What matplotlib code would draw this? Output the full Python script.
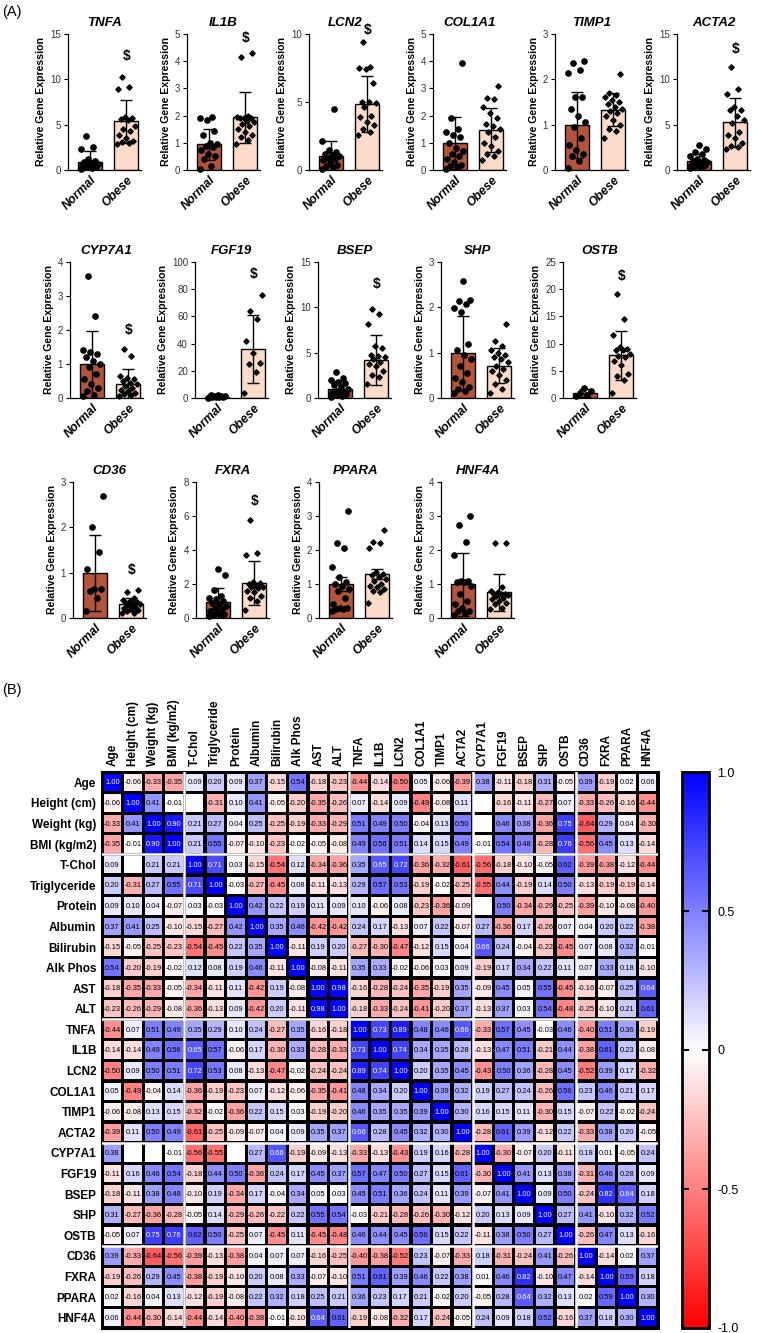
import numpy as np
import matplotlib
matplotlib.use("Agg")
import matplotlib.pyplot as plt
from matplotlib.colors import LinearSegmentedColormap, Normalize
from matplotlib.patches import Rectangle
from matplotlib.cm import ScalarMappable
from matplotlib import font_manager

plt.rcParams['font.family'] = ['Liberation Sans', 'DejaVu Sans']
_names = {f.name for f in font_manager.fontManager.ttflist}
narrow = ['Liberation Sans Narrow', 'Liberation Sans'] if 'Liberation Sans Narrow' in _names else ['Liberation Sans']

# ---------------- Panel A data ----------------
genes = ["TNFA", "IL1B", "LCN2", "COL1A1", "TIMP1", "ACTA2",
         "CYP7A1", "FGF19", "BSEP", "SHP", "OSTB",
         "CD36", "FXRA", "PPARA", "HNF4A"]
y_max = [15, 5, 10, 5, 3, 15, 4, 100, 15, 3, 25, 3, 8, 4, 4]
y_step = [5, 1, 5, 1, 1, 5, 1, 20, 5, 1, 5, 1, 2, 1, 1]
normal_mean = [0.93, 0.95, 1.03, 1.0, 0.99, 1.0, 0.99, 1.0, 1.0, 0.99, 0.93, 0.99, 0.95, 1.0, 0.99]
normal_err = [1.15, 0.57, 1.07, 0.95, 0.72, 0.8, 0.99, 0.8, 0.85, 0.82, 0.74, 0.83, 0.82, 0.2, 0.92]
obese_mean = [5.35, 1.94, 4.84, 1.47, 1.33, 5.24, 0.40, 35.8, 4.15, 0.71, 7.84, 0.30, 2.07, 1.30, 0.76]
obese_err = [2.4, 0.93, 2.05, 0.8, 0.36, 2.65, 0.44, 25.0, 2.75, 0.39, 4.55, 0.14, 1.3, 0.15, 0.54]
sig_y = [12.6, 4.85, 10.3, None, None, 13.4, 2.0, 91, 12.6, None, 22.5, 1.05, 6.9, None, None]

TNFA_normal = [3.8, 2.5, 2.3, 1.2, 1.0, 0.9, 0.8, 0.7, 0.6, 0.5, 0.4, 0.3, 0.2, 0.1, 0.3, 0.5]
TNFA_obese = [10.3, 9.2, 8.9, 5.8, 5.7, 5.6, 5.5, 4.5, 4.3, 3.9, 3.5, 3.2, 3.0, 3.1, 2.9, 4.8]
IL1B_normal = [1.95, 1.9, 1.85, 1.45, 1.3, 1.0, 0.95, 0.9, 0.85, 0.6, 0.4, 0.15, 0.05, 0.5, 0.75]
IL1B_obese = [4.3, 4.15, 2.0, 1.95, 1.9, 1.9, 1.8, 1.7, 1.6, 1.5, 1.4, 1.3, 1.2, 1.1, 1.9, 1.75, 0.95]
LCN2_normal = [4.5, 2.1, 1.5, 1.3, 1.2, 1.1, 1.0, 0.9, 0.8, 0.7, 0.5, 0.4, 0.3, 0.2, 0.1]
LCN2_obese = [9.4, 7.6, 7.5, 7.4, 5.0, 5.0, 4.9, 4.6, 4.0, 3.9, 3.5, 3.3, 3.0, 2.8, 2.6, 6.4]
COL1A1_normal = [3.95, 1.9, 1.5, 1.4, 1.3, 1.2, 1.0, 0.8, 0.6, 0.5, 0.4, 0.3, 0.2, 0.15, 0.1, 0.05, 0.7]
COL1A1_obese = [3.1, 2.65, 2.6, 2.3, 2.1, 1.9, 1.7, 1.6, 1.5, 1.4, 1.2, 1.0, 0.9, 0.7, 0.5, 0.35, 0.6]
TIMP1_normal = [2.4, 2.35, 2.2, 2.15, 1.6, 1.6, 1.35, 1.2, 1.05, 0.95, 0.7, 0.55, 0.45, 0.35, 0.3, 0.2, 0.05]
TIMP1_obese = [2.12, 1.7, 1.65, 1.6, 1.55, 1.5, 1.45, 1.4, 1.35, 1.3, 1.25, 1.2, 1.1, 1.0, 0.9, 0.85, 0.7]
ACTA2_normal = [2.8, 2.3, 2.0, 1.8, 1.5, 1.2, 1.0, 0.9, 0.8, 0.7, 0.6, 0.5, 0.4, 0.3, 0.2, 0.6, 0.9, 1.1]
ACTA2_obese = [11.4, 8.9, 8.4, 7.0, 6.6, 6.6, 5.5, 5.2, 4.2, 3.9, 3.5, 3.0, 2.6, 2.5, 2.3, 6.0]
CYP7A1_normal = [3.6, 2.4, 1.4, 1.35, 1.3, 1.2, 1.1, 1.0, 0.9, 0.7, 0.55, 0.4, 0.3, 0.2, 0.1, 0.05]
CYP7A1_obese = [1.45, 1.25, 0.65, 0.6, 0.55, 0.5, 0.45, 0.4, 0.35, 0.3, 0.25, 0.2, 0.15, 0.1, 0.05, 0.12]
FGF19_normal = [2.5, 2.0, 1.8, 1.5, 1.2, 1.0, 0.8, 0.6, 0.5, 0.4, 0.3]
FGF19_obese = [76, 64, 58, 42, 33, 26, 25, 19, 4]
BSEP_normal = [2.9, 2.2, 2.0, 1.8, 1.6, 1.4, 1.2, 1.0, 0.8, 0.6, 0.5, 0.4, 0.3, 0.2, 0.1, 0.7]
BSEP_obese = [9.8, 9.3, 8.2, 5.7, 5.5, 4.7, 4.6, 4.5, 4.0, 3.8, 3.5, 3.0, 2.5, 2.3, 1.5, 4.3]
SHP_normal = [2.58, 2.17, 2.15, 2.07, 1.98, 1.9, 1.2, 1.05, 0.95, 0.85, 0.7, 0.55, 0.45, 0.35, 0.25, 0.2, 0.15, 0.1]
SHP_obese = [1.63, 1.25, 1.15, 1.05, 1.0, 0.95, 0.9, 0.85, 0.8, 0.7, 0.65, 0.6, 0.5, 0.4, 0.3, 0.2, 0.1]
OSTB_normal = [1.9, 1.2, 0.9, 0.6, 0.3]
OSTB_obese = [19.1, 14.6, 11.5, 9.3, 8.9, 8.8, 8.0, 7.7, 7.5, 6.8, 6.1, 4.5, 4.0, 3.4, 1.0, 9.0]
CD36_normal = [2.7, 2.0, 1.45, 1.08, 0.65, 0.63, 0.6, 0.45, 0.15]
CD36_obese = [0.62, 0.57, 0.45, 0.4, 0.38, 0.35, 0.33, 0.3, 0.28, 0.25, 0.22, 0.2, 0.18, 0.15, 0.12, 0.1, 0.3]
FXRA_normal = [2.9, 2.5, 1.65, 1.3, 1.2, 1.1, 1.0, 0.9, 0.8, 0.7, 0.6, 0.5, 0.4, 0.3, 0.25, 0.2, 0.15, 0.1]
FXRA_obese = [5.75, 3.85, 3.7, 2.1, 2.05, 2.0, 1.9, 1.85, 1.8, 1.75, 1.6, 1.5, 1.3, 1.2, 1.0, 0.45]
PPARA_normal = [3.15, 2.2, 2.05, 1.5, 1.2, 1.05, 1.0, 0.95, 0.85, 0.8, 0.6, 0.4, 0.3, 0.28, 0.25, 0.25, 0.2]
PPARA_obese = [2.6, 2.25, 2.2, 2.05, 1.35, 1.3, 1.25, 1.2, 1.15, 1.1, 1.0, 0.95, 0.9, 0.85, 0.8, 0.75, 0.45]
HNF4A_normal = [3.0, 2.75, 2.25, 1.85, 1.1, 1.1, 1.05, 1.05, 0.95, 0.7, 0.5, 0.4, 0.3, 0.2, 0.2, 0.15, 0.1]
HNF4A_obese = [2.2, 2.2, 0.9, 0.8, 0.75, 0.72, 0.7, 0.7, 0.68, 0.65, 0.6, 0.55, 0.5, 0.45, 0.4, 0.3, 0.25]

normal_points = [TNFA_normal, IL1B_normal, LCN2_normal, COL1A1_normal, TIMP1_normal, ACTA2_normal,
                 CYP7A1_normal, FGF19_normal, BSEP_normal, SHP_normal, OSTB_normal,
                 CD36_normal, FXRA_normal, PPARA_normal, HNF4A_normal]
obese_points = [TNFA_obese, IL1B_obese, LCN2_obese, COL1A1_obese, TIMP1_obese, ACTA2_obese,
                CYP7A1_obese, FGF19_obese, BSEP_obese, SHP_obese, OSTB_obese,
                CD36_obese, FXRA_obese, PPARA_obese, HNF4A_obese]
groups = ["Normal", "Obese"]

# ---------------- Panel B data ----------------
variables = ["Age", "Height (cm)", "Weight (kg)", "BMI (kg/m2)", "T-Chol", "Triglyceride",
             "Protein", "Albumin", "Bilirubin", "Alk Phos", "AST", "ALT",
             "TNFA", "IL1B", "LCN2", "COL1A1", "TIMP1", "ACTA2",
             "CYP7A1", "FGF19", "BSEP", "SHP", "OSTB", "CD36", "FXRA", "PPARA", "HNF4A"]
N = None
corr = [
    [1.00, -0.06, -0.33, -0.35, 0.09, 0.20, 0.09, 0.37, -0.15, 0.54, -0.18, -0.23, -0.44, -0.14, -0.50, 0.05, -0.06, -0.39, 0.38, -0.11, -0.18, 0.31, -0.05, 0.39, -0.19, 0.02, 0.06],
    [-0.06, 1.00, 0.41, -0.01, N, -0.31, 0.10, 0.41, -0.05, -0.20, -0.35, -0.26, 0.07, -0.14, 0.09, -0.49, -0.08, 0.11, N, -0.16, -0.11, -0.27, 0.07, -0.33, -0.26, -0.16, -0.44],
    [-0.33, 0.41, 1.00, 0.90, 0.21, 0.27, 0.04, 0.25, -0.25, -0.19, -0.33, -0.29, 0.51, 0.49, 0.50, -0.04, 0.13, 0.50, N, 0.46, 0.38, -0.36, 0.75, -0.64, 0.29, 0.04, -0.30],
    [-0.35, -0.01, 0.90, 1.00, 0.21, 0.55, -0.07, -0.10, -0.23, -0.02, -0.05, -0.08, 0.49, 0.56, 0.51, 0.14, 0.15, 0.49, -0.01, 0.54, 0.48, -0.28, 0.76, -0.56, 0.45, 0.13, -0.14],
    [0.09, N, 0.21, 0.21, 1.00, 0.71, 0.03, -0.15, -0.54, 0.12, -0.34, -0.36, 0.35, 0.65, 0.72, -0.36, -0.32, -0.61, -0.56, -0.18, -0.10, -0.05, 0.62, -0.39, -0.38, -0.12, -0.44],
    [0.20, -0.31, 0.27, 0.55, 0.71, 1.00, -0.03, -0.27, -0.45, 0.08, -0.11, -0.13, 0.29, 0.57, 0.53, -0.19, -0.02, -0.25, -0.55, 0.44, -0.19, 0.14, 0.50, -0.13, -0.19, -0.19, -0.14],
    [0.09, 0.10, 0.04, -0.07, 0.03, -0.03, 1.00, 0.42, 0.22, 0.19, 0.11, 0.09, 0.10, -0.06, 0.08, -0.23, -0.36, -0.09, N, 0.50, -0.34, -0.29, -0.25, -0.39, -0.10, -0.08, -0.40],
    [0.37, 0.41, 0.25, -0.10, -0.15, -0.27, 0.42, 1.00, 0.35, 0.46, -0.42, -0.42, 0.24, 0.17, -0.13, 0.07, 0.22, -0.07, 0.27, -0.36, 0.17, -0.26, 0.07, 0.04, 0.20, 0.22, -0.38],
    [-0.15, -0.05, -0.25, -0.23, -0.54, -0.45, 0.22, 0.35, 1.00, -0.11, 0.19, 0.20, -0.27, -0.30, -0.47, -0.12, 0.15, 0.04, 0.66, 0.24, -0.04, -0.22, -0.45, 0.07, 0.08, 0.32, -0.01],
    [0.54, -0.20, -0.19, -0.02, 0.12, 0.08, 0.19, 0.46, -0.11, 1.00, -0.08, -0.11, 0.35, 0.33, -0.02, -0.06, 0.03, 0.09, -0.19, 0.17, 0.34, 0.22, 0.11, 0.07, 0.33, 0.18, -0.10],
    [-0.18, -0.35, -0.33, -0.05, -0.34, -0.11, 0.11, -0.42, 0.19, -0.08, 1.00, 0.98, -0.16, -0.28, -0.24, -0.35, -0.19, 0.35, -0.09, 0.45, 0.05, 0.55, -0.45, -0.16, -0.07, 0.25, 0.64],
    [-0.23, -0.26, -0.29, -0.08, -0.36, -0.13, 0.09, -0.42, 0.20, -0.11, 0.98, 1.00, -0.18, -0.33, -0.24, -0.41, -0.20, 0.37, -0.13, 0.37, 0.03, 0.54, -0.48, -0.25, -0.10, 0.21, 0.61],
    [-0.44, 0.07, 0.51, 0.49, 0.35, 0.29, 0.10, 0.24, -0.27, 0.35, -0.16, -0.18, 1.00, 0.73, 0.89, 0.48, 0.46, 0.66, -0.33, 0.57, 0.45, -0.03, 0.46, -0.40, 0.51, 0.36, -0.19],
    [-0.14, -0.14, 0.49, 0.56, 0.65, 0.57, -0.06, 0.17, -0.30, 0.33, -0.28, -0.33, 0.73, 1.00, 0.74, 0.34, 0.35, 0.28, -0.13, 0.47, 0.51, -0.21, 0.44, -0.38, 0.61, 0.23, -0.08],
    [-0.50, 0.09, 0.50, 0.51, 0.72, 0.53, 0.08, -0.13, -0.47, -0.02, -0.24, -0.24, 0.89, 0.74, 1.00, 0.20, 0.35, 0.45, -0.43, 0.50, 0.36, -0.28, 0.45, -0.52, 0.39, 0.17, -0.32],
    [0.05, -0.49, -0.04, 0.14, -0.36, -0.19, -0.23, 0.07, -0.12, -0.06, -0.35, -0.41, 0.48, 0.34, 0.20, 1.00, 0.39, 0.32, 0.19, 0.27, 0.24, -0.26, 0.56, 0.23, 0.46, 0.21, 0.17],
    [-0.06, -0.08, 0.13, 0.15, -0.32, -0.02, -0.36, 0.22, 0.15, 0.03, -0.19, -0.20, 0.46, 0.35, 0.35, 0.39, 1.00, 0.30, 0.16, 0.15, 0.11, -0.30, 0.15, -0.07, 0.22, -0.02, -0.24],
    [-0.39, 0.11, 0.50, 0.49, -0.61, -0.25, -0.09, -0.07, 0.04, 0.09, 0.35, 0.37, 0.66, 0.28, 0.45, 0.32, 0.30, 1.00, -0.28, 0.61, 0.39, -0.12, 0.22, -0.33, 0.38, 0.20, -0.05],
    [0.38, N, N, -0.01, -0.56, -0.55, N, 0.27, 0.66, -0.19, -0.09, -0.13, -0.33, -0.13, -0.43, 0.19, 0.16, -0.28, 1.00, -0.30, -0.07, 0.20, -0.11, 0.18, 0.01, -0.05, 0.24],
    [-0.11, 0.16, 0.46, 0.54, -0.18, 0.44, 0.50, -0.36, 0.24, 0.17, 0.45, 0.37, 0.57, 0.47, 0.50, 0.27, 0.15, 0.61, -0.30, 1.00, 0.41, 0.13, 0.38, -0.31, 0.46, 0.28, 0.09],
    [-0.18, -0.11, 0.38, 0.48, -0.10, 0.19, -0.34, 0.17, -0.04, 0.34, 0.05, 0.03, 0.45, 0.51, 0.36, 0.24, 0.11, 0.39, -0.07, 0.41, 1.00, 0.09, 0.50, -0.24, 0.82, 0.64, 0.18],
    [0.31, -0.27, -0.36, -0.28, -0.05, 0.14, -0.29, -0.26, -0.22, 0.22, 0.55, 0.54, -0.03, -0.21, -0.28, -0.26, -0.30, -0.12, 0.20, 0.13, 0.09, 1.00, 0.27, 0.41, -0.10, 0.32, 0.52],
    [-0.05, 0.07, 0.75, 0.76, 0.62, 0.50, -0.25, 0.07, -0.45, 0.11, -0.45, -0.48, 0.46, 0.44, 0.45, 0.56, 0.15, 0.22, -0.11, 0.38, 0.50, 0.27, 1.00, -0.26, 0.47, 0.13, -0.16],
    [0.39, -0.33, -0.64, -0.56, -0.39, -0.13, -0.38, 0.04, 0.07, 0.07, -0.16, -0.25, -0.40, -0.38, -0.52, 0.23, -0.07, -0.33, 0.18, -0.31, -0.24, 0.41, -0.26, 1.00, -0.14, 0.02, 0.37],
    [-0.19, -0.26, 0.29, 0.45, -0.38, -0.19, -0.10, 0.20, 0.08, 0.33, -0.07, -0.10, 0.51, 0.61, 0.39, 0.46, 0.22, 0.38, 0.01, 0.46, 0.82, -0.10, 0.47, -0.14, 1.00, 0.59, 0.18],
    [0.02, -0.16, 0.04, 0.13, -0.12, -0.19, -0.08, 0.22, 0.32, 0.18, 0.25, 0.21, 0.36, 0.23, 0.17, 0.21, -0.02, 0.20, -0.05, 0.28, 0.64, 0.32, 0.13, 0.02, 0.59, 1.00, 0.30],
    [0.06, -0.44, -0.30, -0.14, -0.44, -0.14, -0.40, -0.38, -0.01, -0.10, 0.64, 0.61, -0.19, -0.08, -0.32, 0.17, -0.24, -0.05, 0.24, 0.09, 0.18, 0.52, -0.16, 0.37, 0.18, 0.30, 1.00],
]
group_breaks = [4, 12, 18, 23]
cbar_ticks = [1.0, 0.5, 0.0, -0.5, -1.0]
cbar_labels = ["1.0", "0.5", "0", "-0.5", "-1.0"]

# ---------------- Figure ----------------
W, H = 760, 1333
fig = plt.figure(figsize=(W / 100, H / 100), dpi=100)


def ax_px(l, t, w, h):
    return fig.add_axes([l / W, 1 - (t + h) / H, w / W, h / H])


normal_color = "#B4553A"
obese_color = "#FCDCC8"

row_tops = [34, 262, 482]
row_lefts = [[68, 187, 309, 433, 555, 677],
             [70, 195, 318, 441, 563],
             [73, 196, 319, 441]]
panel_w, panel_h = 73, 136

k = 0
for r, lefts in enumerate(row_lefts):
    for left in lefts:
        g = k
        ax = ax_px(left, row_tops[r], panel_w, panel_h)
        means = [normal_mean[g], obese_mean[g]]
        errs = [normal_err[g], obese_err[g]]
        ax.bar([0, 1], means, width=0.66, color=[normal_color, obese_color],
               edgecolor="black", linewidth=1.0, zorder=1)
        for xi, pts, mk, ms in [(0, normal_points[g], "o", 3.8), (1, obese_points[g], "D", 2.7)]:
            pts = np.asarray(pts, dtype=float)
            order = np.argsort(pts)
            offs = np.zeros(len(pts))
            for rank, idx in enumerate(order):
                offs[idx] = (((rank * 0.618) % 1.0) - 0.5) * 0.5
            ax.plot(xi + offs, pts, linestyle="none", marker=mk, markersize=ms,
                    color="black", zorder=3, clip_on=False)
        ax.errorbar([0, 1], means, yerr=errs, fmt="none", ecolor="black",
                    elinewidth=1.0, capsize=4, capthick=1.0, zorder=4)
        if sig_y[g] is not None:
            ax.text(1, sig_y[g], "$", ha="center", va="center", fontsize=10,
                    fontweight="bold", clip_on=False)
        ax.set_xlim(-0.6, 1.4)
        ax.set_ylim(0, y_max[g])
        ax.set_yticks(np.arange(0, y_max[g] + 0.001, y_step[g]))
        ax.set_xticks([0, 1])
        ax.set_xticklabels(groups, rotation=45, ha="right", va="top",
                           rotation_mode="anchor", fontsize=8.8,
                           fontweight="bold", fontstyle="italic")
        ax.tick_params(axis="x", length=0, pad=3)
        ax.tick_params(axis="y", length=3, width=0.8, labelsize=7, labelcolor="#333333", pad=2)
        for lab in ax.get_yticklabels():
            lab.set_family(narrow)
        for s in ["top", "right"]:
            ax.spines[s].set_visible(False)
        for s in ["left", "bottom"]:
            ax.spines[s].set_linewidth(0.9)
        ax.set_ylabel("Relative Gene Expression", fontsize=7.6, fontweight="bold", labelpad=3)
        ax.set_title(genes[g], fontsize=9.5, fontweight="bold", fontstyle="italic", pad=6)
        k += 1

fig.text(2 / W, 1 - 12 / H, "(A)", fontsize=10.5, ha="left", va="center")
fig.text(2 / W, 1 - 690 / H, "(B)", fontsize=10.5, ha="left", va="center")

# ---------------- Heatmap ----------------
cmap = LinearSegmentedColormap.from_list("rwb", ["#FF0000", "#FFFFFF", "#0000FF"])
norm = Normalize(-1, 1)
n = len(variables)
axh = ax_px(102, 772, 556, 556)
axh.set_xlim(0, n)
axh.set_ylim(n, 0)
axh.set_facecolor("black")
gap = 0.08
for i in range(n):
    for j in range(n):
        v = corr[i][j]
        fc = "white" if v is None else cmap(norm(v))
        axh.add_patch(Rectangle((j + gap, i + gap), 1 - 2 * gap, 1 - 2 * gap,
                                facecolor=fc, edgecolor="none", zorder=1))
        if v is not None:
            tc = "white" if v >= 0.63 else "black"
            axh.text(j + 0.5, i + 0.53, f"{v:.2f}", ha="center", va="center",
                     fontsize=5.4, color=tc, zorder=2, family=narrow)
for b in group_breaks:
    axh.axvline(b, color="white", lw=1.8, zorder=3)
    axh.axhline(b, color="white", lw=1.8, zorder=3)
axh.set_xticks(np.arange(n) + 0.5)
axh.set_yticks(np.arange(n) + 0.5)
axh.set_yticklabels(variables, fontsize=8.5, fontweight="bold")
axh.xaxis.tick_top()
axh.set_xticklabels(variables, rotation=90, fontsize=8.5, fontweight="bold", va="bottom")
axh.tick_params(length=0, pad=4)
for s in axh.spines.values():
    s.set_linewidth(2.2)

axc = ax_px(682, 772, 27, 556)
cb = fig.colorbar(ScalarMappable(norm=norm, cmap=cmap), cax=axc)
cb.set_ticks(cbar_ticks)
cb.set_ticklabels(cbar_labels)
axc.tick_params(direction="in", left=True, right=True, length=5, width=1.5,
                labelsize=9, pad=6)
cb.outline.set_linewidth(2)

fig.savefig("out.png", dpi=100)
